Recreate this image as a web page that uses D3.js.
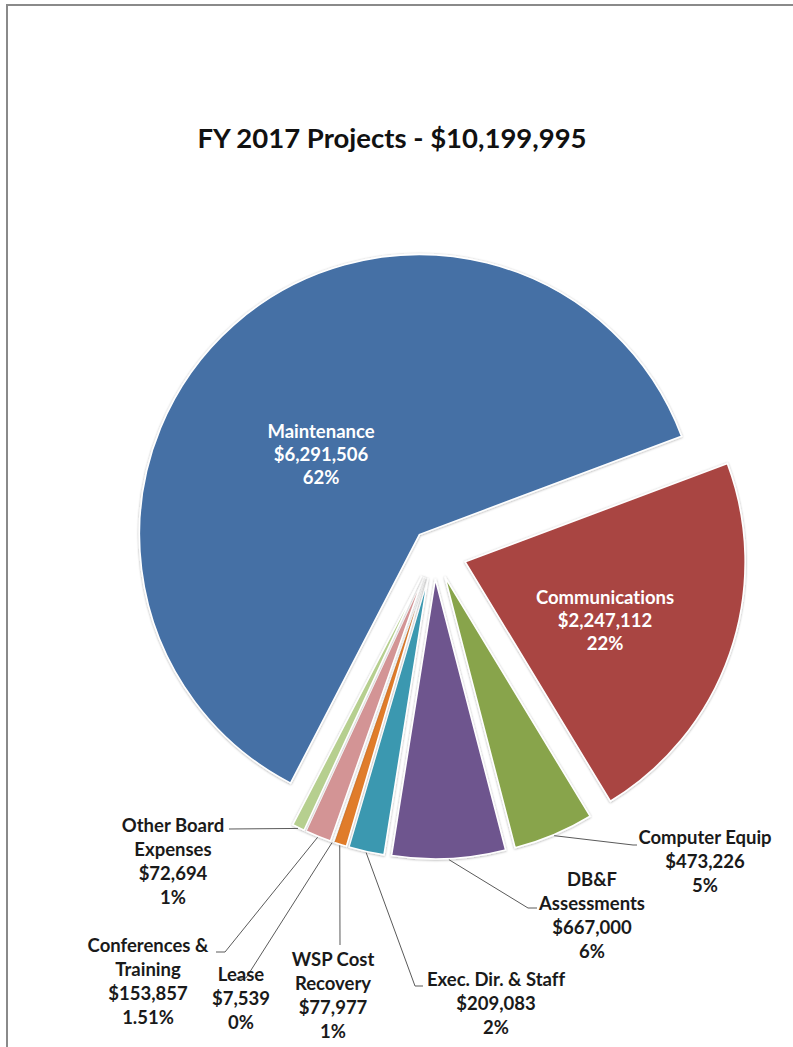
<!DOCTYPE html>
<html>
<head>
<meta charset="utf-8">
<script src="https://cdn.jsdelivr.net/npm/d3@7"></script>
<style>
  html, body { margin: 0; padding: 0; background: #fff; }
  svg { display: block; }
  text { font-family: Lato, "Open Sans", sans-serif; font-weight: bold; font-variant-ligatures: none; font-feature-settings: "liga" 0; }
</style>
</head>
<body>
<svg id="chart" width="793" height="1047"></svg>
<script>
// ---------------- DATA ----------------
const categories = ["Maintenance", "Communications", "Computer Equip", "DB&F Assessments",
  "Exec. Dir. & Staff", "WSP Cost Recovery", "Lease", "Conferences & Training", "Other Board Expenses"];
const amounts = [6291506, 2247112, 473226, 667000, 209083, 77977, 7539, 153857, 72694];
const percentLabels = ["62%", "22%", "5%", "6%", "2%", "1%", "0%", "1.51%", "1%"];
const labelLines = [
  ["Maintenance"], ["Communications"], ["Computer Equip"], ["DB&F", "Assessments"],
  ["Exec. Dir. & Staff"], ["WSP Cost", "Recovery"], ["Lease"], ["Conferences &", "Training"],
  ["Other Board", "Expenses"]
];
const titleText = "FY 2017 Projects - $10,199,995";

// ---------------- STYLE / LAYOUT ----------------
const colors = ["#4470A5", "#A94543", "#88A44B", "#6E548E", "#3B98B0", "#E07C2C", "#8AA8CF", "#D39495", "#B6CF8F"];
const center = { x: 434, y: 551 };
const radius = 280;
const startDeg = 207.4;
const explode = [22, 33, 28, 28, 28, 28, 28, 28, 28];
const labelPos = [
  { x: 321, y: 438, inside: true },
  { x: 605, y: 604, inside: true },
  { x: 705, y: 844 },
  { x: 592, y: 886 },
  { x: 496, y: 986 },
  { x: 333, y: 966 },
  { x: 241, y: 981 },
  { x: 148, y: 952 },
  { x: 173, y: 832 }
];
const leaderEnds = [
  null, null,
  [[633, 845], [637, 845]],
  [[528, 908], [537, 908]],
  [[415, 986], [423, 986]],
  [[340, 945]],
  [[246, 978], [236, 978]],
  [[225, 952], [216, 952]],
  [[229, 829]]
];
const lineH = 24;

const svg = d3.select("#chart");

svg.append("rect").attr("x", 7).attr("y", 5).attr("width", 900).attr("height", 1200)
  .attr("fill", "none").attr("stroke", "#8a8a8a").attr("stroke-width", 2);

svg.append("text").attr("x", 392).attr("y", 148).attr("text-anchor", "middle")
  .attr("font-size", 27.5).attr("fill", "#111").text(titleText);

const defs = svg.append("defs");
const f = defs.append("filter").attr("id", "sh").attr("x", "-20%").attr("y", "-20%").attr("width", "140%").attr("height", "140%");
f.append("feDropShadow").attr("dx", 0).attr("dy", 0.5).attr("stdDeviation", 1.2)
  .attr("flood-color", "#000").attr("flood-opacity", 0.35);

const rad = Math.PI / 180;
const pie = d3.pie().sort(null).value(d => d)
  .startAngle(startDeg * rad).endAngle(startDeg * rad + 2 * Math.PI);
const arcs = pie(amounts);
const arc = d3.arc().innerRadius(0).outerRadius(radius);

function offset(a, dist) {
  const m = (a.startAngle + a.endAngle) / 2;
  return [Math.sin(m) * dist, -Math.cos(m) * dist];
}

const g = svg.append("g").attr("transform", `translate(${center.x},${center.y})`);
g.selectAll("path.slice").data(arcs).enter().append("path")
  .attr("class", "slice")
  .attr("transform", (a, i) => { const o = offset(a, explode[i]); return `translate(${o[0]},${o[1]})`; })
  .attr("d", arc)
  .attr("fill", (a, i) => colors[i])
  .attr("stroke", "#fff").attr("stroke-width", 1.6)
  .attr("filter", "url(#sh)");

arcs.forEach((a, i) => {
  if (!leaderEnds[i]) return;
  const o = offset(a, explode[i]);
  const p = offset(a, radius + 1);
  const start = [center.x + o[0] + p[0], center.y + o[1] + p[1]];
  const pts = [start].concat(leaderEnds[i]);
  svg.append("path").attr("d", d3.line()(pts))
    .attr("fill", "none").attr("stroke", "#5a5a5a").attr("stroke-width", 1);
});

const fmt = d3.format("$,");
arcs.forEach((a, i) => {
  const lp = labelPos[i];
  const lines = labelLines[i].concat([fmt(amounts[i]), percentLabels[i]]);
  const t = svg.append("text").attr("text-anchor", "middle")
    .attr("font-size", 18.5)
    .attr("fill", lp.inside ? "#fff" : "#1a1a1a");
  lines.forEach((s, k) => {
    t.append("tspan").attr("x", lp.x).attr("y", lp.y + k * (lp.inside ? 23 : lineH)).text(s);
  });
});
</script>
</body>
</html>
